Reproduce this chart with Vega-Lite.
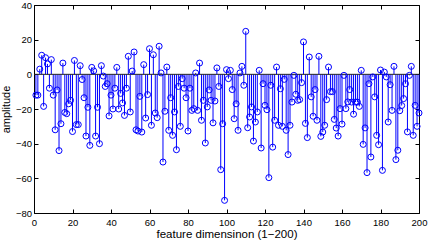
{
  "$schema": "https://vega.github.io/schema/vega-lite/v6.json",
  "width": 385,
  "height": 208,
  "autosize": {"type": "none"},
  "padding": {"left": 34, "top": 5, "right": 10, "bottom": 30},
  "background": "white",
  "config": {
    "view": {"stroke": "black", "strokeWidth": 1},
    "axis": {
      "labelFont": "Liberation Sans",
      "titleFont": "Liberation Sans",
      "labelColor": "black",
      "titleColor": "black",
      "tickColor": "black",
      "grid": false,
      "domain": false,
      "titleFontWeight": "normal"
    }
  },
  "data": {"values": [
    {"i":1,"v":-12},{"i":2,"v":-12},{"i":3,"v":3},{"i":4,"v":11},{"i":5,"v":-18.5},{"i":6,"v":9.6},{"i":7,"v":6},{"i":8,"v":-8},{"i":9,"v":8.5},{"i":10,"v":-12},
    {"i":11,"v":-32},{"i":12,"v":-9},{"i":13,"v":-44},{"i":14,"v":-28.5},{"i":15,"v":6.5},{"i":16,"v":-22},{"i":17,"v":-22.7},{"i":18,"v":-17},{"i":19,"v":-15},{"i":20,"v":-33},
    {"i":21,"v":8},{"i":22,"v":-29},{"i":23,"v":-29},{"i":24,"v":5},{"i":25,"v":-3},{"i":26,"v":-13.5},{"i":27,"v":-35.6},{"i":28,"v":-19},{"i":29,"v":-41},{"i":30,"v":4},
    {"i":31,"v":2},{"i":32,"v":-35.6},{"i":33,"v":-19},{"i":34,"v":-40},{"i":35,"v":5},{"i":36,"v":-1},{"i":37,"v":-7},{"i":38,"v":-5.4},{"i":39,"v":-24},{"i":40,"v":-12},
    {"i":41,"v":-20},{"i":42,"v":-8},{"i":43,"v":4},{"i":44,"v":-20},{"i":45,"v":-11},{"i":46,"v":-16.5},{"i":47,"v":-23.7},{"i":48,"v":-8},{"i":49,"v":10.4},{"i":50,"v":-21.7},
    {"i":51,"v":1.9},{"i":52,"v":12.9},{"i":53,"v":-32},{"i":54,"v":-32.7},{"i":55,"v":-12.7},{"i":56,"v":-33.3},{"i":57,"v":5.6},{"i":58,"v":-25.2},{"i":59,"v":-11.7},{"i":60,"v":14.8},
    {"i":61,"v":-29.4},{"i":62,"v":11.3},{"i":63,"v":-22.3},{"i":64,"v":-25},{"i":65,"v":16.2},{"i":66,"v":0.8},{"i":67,"v":-50.6},{"i":68,"v":-21.3},{"i":69,"v":4.2},{"i":70,"v":-32.3},
    {"i":71,"v":-13.5},{"i":72,"v":-35.2},{"i":73,"v":-21.7},{"i":74,"v":-43.5},{"i":75,"v":-7},{"i":76,"v":-30},{"i":77,"v":-2.5},{"i":78,"v":-8},{"i":79,"v":-13.5},{"i":80,"v":-32.7},
    {"i":81,"v":-8},{"i":82,"v":-20.8},{"i":83,"v":-19.8},{"i":84,"v":0.8},{"i":85,"v":-20.8},{"i":86,"v":6.5},{"i":87,"v":-26.5},{"i":88,"v":-15},{"i":89,"v":-39.6},{"i":90,"v":-18.8},
    {"i":91,"v":-9},{"i":92,"v":-15},{"i":93,"v":-28},{"i":94,"v":-15.4},{"i":95,"v":3.7},{"i":96,"v":-7},{"i":97,"v":-55},{"i":98,"v":-28.5},{"i":99,"v":-72.7},{"i":100,"v":2.7},
    {"i":101,"v":-2.5},{"i":102,"v":2.3},{"i":103,"v":-8.8},{"i":104,"v":-25.6},{"i":105,"v":-17},{"i":106,"v":-32.3},{"i":107,"v":0.8},{"i":108,"v":4.6},{"i":109,"v":-6.3},{"i":110,"v":24.8},
    {"i":111,"v":-30.8},{"i":112,"v":-24.6},{"i":113,"v":-18.8},{"i":114,"v":-38.5},{"i":115,"v":-27.5},{"i":116,"v":-21.7},{"i":117,"v":2.3},{"i":118,"v":-42.5},{"i":119,"v":-5.4},{"i":120,"v":-17.9},
    {"i":121,"v":-20.4},{"i":122,"v":-59.6},{"i":123,"v":-6.3},{"i":124,"v":-42},{"i":125,"v":-26.5},{"i":126,"v":4.2},{"i":127,"v":-29.4},{"i":128,"v":-8.3},{"i":129,"v":-30},{"i":130,"v":-2.9},
    {"i":131,"v":-32.3},{"i":132,"v":-46.3},{"i":133,"v":-29.4},{"i":134,"v":-16},{"i":135,"v":-0.6},{"i":136,"v":-11.5},{"i":137,"v":-15},{"i":138,"v":-14.6},{"i":139,"v":-4.8},{"i":140,"v":18.7},
    {"i":141,"v":-28.3},{"i":142,"v":-36.5},{"i":143,"v":10},{"i":144,"v":-13},{"i":145,"v":-24.2},{"i":146,"v":-8.8},{"i":147,"v":-26.5},{"i":148,"v":10.4},{"i":149,"v":-35.8},{"i":150,"v":-33.3},
    {"i":151,"v":-29.4},{"i":152,"v":-14.6},{"i":153,"v":4.2},{"i":154,"v":-10},{"i":155,"v":-10},{"i":156,"v":-26},{"i":157,"v":-31},{"i":158,"v":-35.6},{"i":159,"v":-19.8},{"i":160,"v":-28.7},
    {"i":161,"v":-0.6},{"i":162,"v":-19.8},{"i":163,"v":-15.9},{"i":164,"v":-8.8},{"i":165,"v":-16},{"i":166,"v":-23},{"i":167,"v":-16},{"i":168,"v":-16},{"i":169,"v":-18.5},{"i":170,"v":2.3},
    {"i":171,"v":-40.4},{"i":172,"v":-30.9},{"i":173,"v":-56.7},{"i":174,"v":-5.4},{"i":175,"v":-47.7},{"i":176,"v":-1.5},{"i":177,"v":-13},{"i":178,"v":-35.2},{"i":179,"v":-40.6},{"i":180,"v":2.5},
    {"i":181,"v":-55.4},{"i":182,"v":1.3},{"i":183,"v":-1.5},{"i":184,"v":-27.5},{"i":185,"v":-6},{"i":186,"v":-20.8},{"i":187,"v":4.6},{"i":188,"v":-49.2},{"i":189,"v":-43.8},{"i":190,"v":-21},
    {"i":191,"v":-18},{"i":192,"v":-14},{"i":193,"v":-5.4},{"i":194,"v":-33.2},{"i":195,"v":-0.6},{"i":196,"v":4.6},{"i":197,"v":-35.2},{"i":198,"v":-17.9},{"i":199,"v":-30},{"i":200,"v":-22.3}
  ]},
  "layer": [
    {
      "mark": {"type": "rule", "color": "#0000ff", "strokeWidth": 1},
      "encoding": {
        "x": {"field": "i", "type": "quantitative",
              "scale": {"domain": [0, 200], "nice": false, "zero": false},
              "axis": {"orient": "bottom", "values": [0,20,40,60,80,100,120,140,160,180,200],
                       "tickSize": -4, "labelPadding": 8, "labelFontSize": 9.5,
                       "labelFlush": false, "labelOverlap": false,
                       "title": "feature dimensinon (1−200)", "titleFontSize": 11.5, "titlePadding": 2}},
        "y": {"field": "v", "type": "quantitative",
              "scale": {"domain": [-80, 40], "nice": false},
              "axis": {"orient": "left", "values": [-80,-60,-40,-20,0,20,40],
                       "tickSize": -4, "labelPadding": 6.5, "labelFontSize": 9.5,
                       "labelFlush": false, "labelOverlap": false,
                       "title": "amplitude", "titleFontSize": 11, "titlePadding": 4}},
        "y2": {"datum": 0}
      }
    },
    {
      "data": {"values": [{}]},
      "mark": {"type": "rule", "color": "#222222", "strokeWidth": 1},
      "encoding": {"y": {"datum": 0, "type": "quantitative", "axis": null}}
    },
    {
      "mark": {"type": "point", "shape": "circle", "filled": false, "color": "#0000ff", "size": 36, "strokeWidth": 1, "opacity": 1},
      "encoding": {
        "x": {"field": "i", "type": "quantitative",
              "axis": {"orient": "top", "values": [0,20,40,60,80,100,120,140,160,180,200],
                       "tickSize": -4, "labels": false, "title": null}},
        "y": {"field": "v", "type": "quantitative",
              "axis": {"orient": "right", "values": [-80,-60,-40,-20,0,20,40],
                       "tickSize": -4, "labels": false, "title": null}}
      }
    }
  ],
  "resolve": {"axis": {"x": "independent", "y": "independent"}}
}
